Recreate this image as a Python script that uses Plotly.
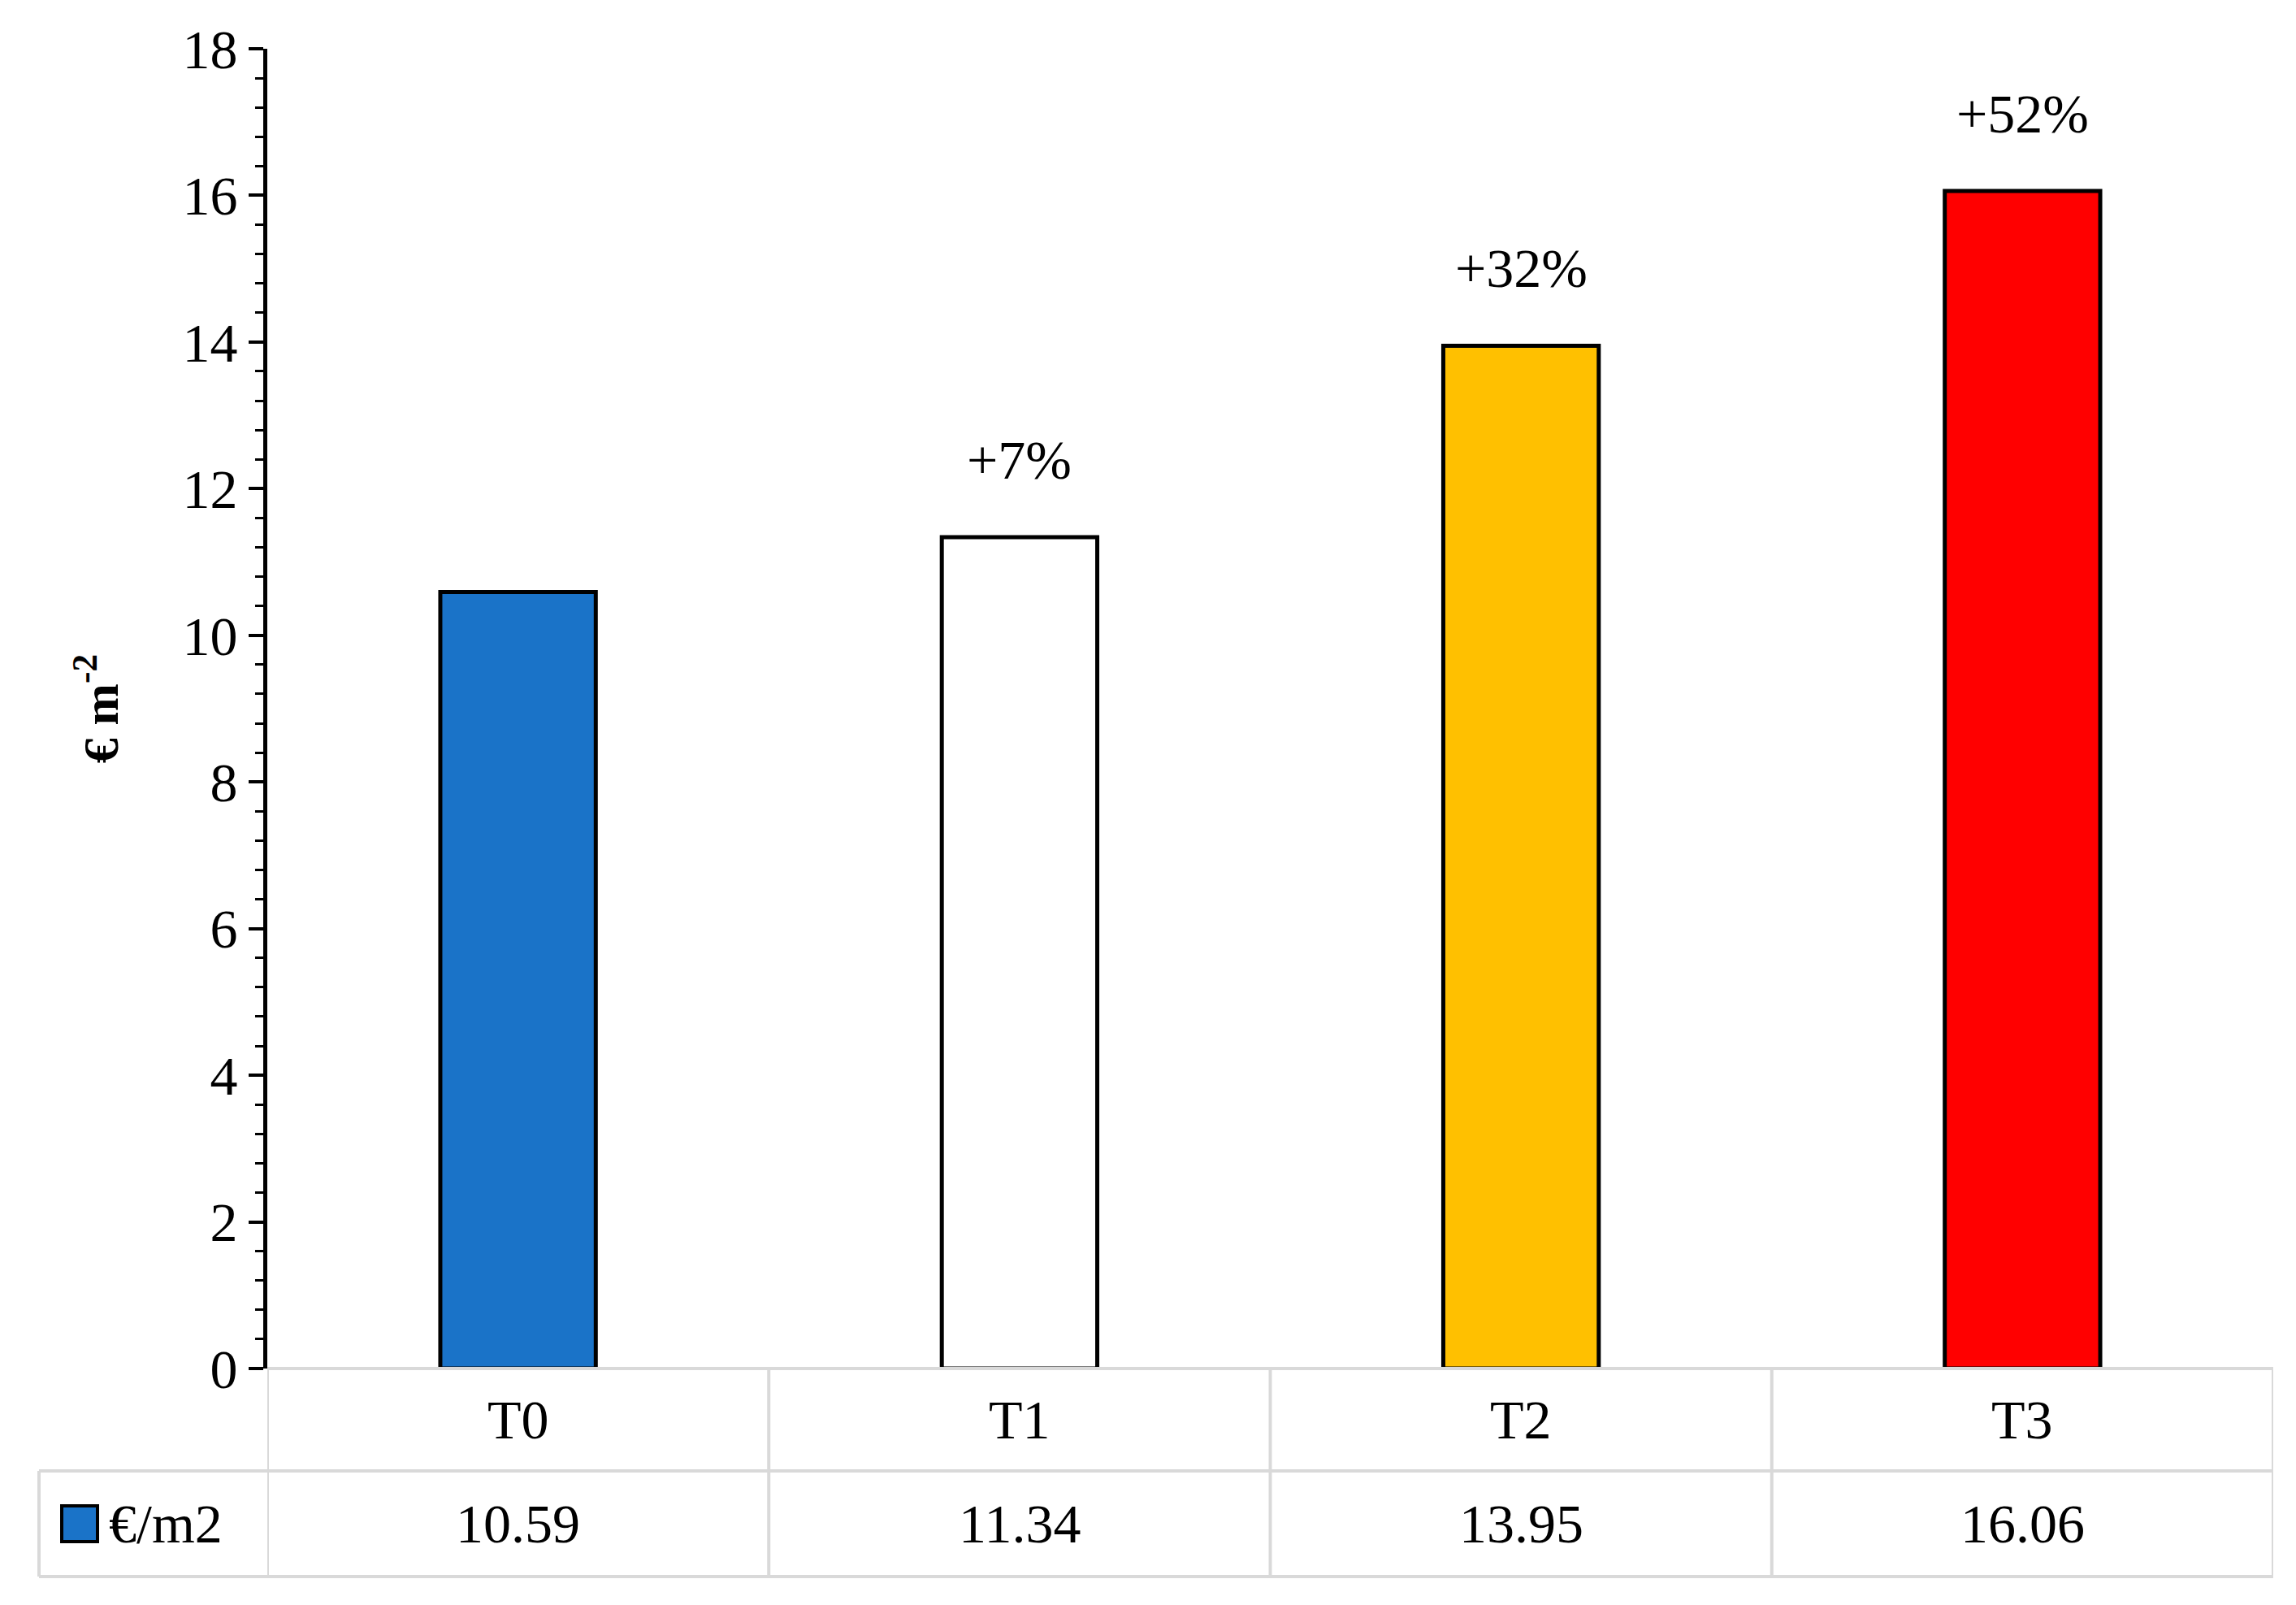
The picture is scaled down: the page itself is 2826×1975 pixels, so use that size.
import plotly.graph_objects as go

categories = ["T0", "T1", "T2", "T3"]
values = [10.59, 11.34, 13.95, 16.06]
labels = ["", "+7%", "+32%", "+52%"]
colors = ["#1a73c8", "#ffffff", "#ffc000", "#ff0000"]
series_name = "€/m2"

W, H = 2826, 1975
L, R, T, B = 321, 36, 52, 299
ph = H - T - B
pw = W - L - R
def py(px): return (H - B - px) / ph
def px_(p): return (p - L) / pw

FONT = "Liberation Serif"
FS = 68
fig = go.Figure()
xs = list(range(len(categories)))
fig.add_trace(go.Bar(x=xs, y=values, width=0.31, marker=dict(color=colors, line=dict(color="black", width=5)),
                     showlegend=False))

shapes = []
grey = "#d9d9d9"
shapes.append(dict(type="line", xref="x", yref="paper", x0=-0.5, x1=3.5, y0=py(1676), y1=py(1676), line=dict(color=grey, width=4)))
for yp in [1802, 1932]:
    shapes.append(dict(type="line", xref="paper", yref="paper", x0=px_(40), x1=1, y0=py(yp), y1=py(yp), line=dict(color=grey, width=4)))
for i in range(len(categories) + 1):
    shapes.append(dict(type="line", xref="x", yref="paper", x0=i - 0.5, x1=i - 0.5, y0=py(1676), y1=py(1932), line=dict(color=grey, width=4)))
shapes.append(dict(type="line", xref="paper", yref="paper", x0=px_(40), x1=px_(40), y0=py(1802), y1=py(1932), line=dict(color=grey, width=4)))
shapes.append(dict(type="rect", xref="paper", yref="paper", x0=px_(68), x1=px_(112), y0=py(1889), y1=py(1845),
                   fillcolor=colors[0], line=dict(color="black", width=4)))

ann = []
for i, (c, v, lab) in enumerate(zip(categories, values, labels)):
    ann.append(dict(x=i, y=py(1739), xref="x", yref="paper", yanchor="middle", text=c, showarrow=False, font=dict(family=FONT, size=FS, color="black")))
    ann.append(dict(x=i, y=py(1867), xref="x", yref="paper", yanchor="middle", text=f"{v:.2f}", showarrow=False, font=dict(family=FONT, size=FS, color="black")))
    if lab:
        ann.append(dict(x=i, y=v, xref="x", yref="y", yanchor="bottom", yshift=55, text=lab, showarrow=False, font=dict(family=FONT, size=FS, color="black")))
ann.append(dict(x=px_(124), y=py(1867), xref="paper", yref="paper", xanchor="left", yanchor="middle", text=series_name, showarrow=False,
                font=dict(family=FONT, size=FS, color="black")))

fig.update_layout(
    width=W, height=H, margin=dict(l=L, r=R, t=T, b=B),
    plot_bgcolor="white", paper_bgcolor="white",
    shapes=shapes, annotations=ann,
    xaxis=dict(range=[-0.5, 3.5], showticklabels=False, showgrid=False, zeroline=False, ticks=""),
    yaxis=dict(range=[0, 18], dtick=2, showgrid=False, zeroline=False, ticks="outside", ticklen=18, tickwidth=4,
               tickcolor="black", showline=True, linecolor="black", linewidth=5,
               tickfont=dict(family=FONT, size=FS, color="black"),
               minor=dict(dtick=0.4, ticks="outside", ticklen=10, tickwidth=3, tickcolor="black"),
               title=dict(text="<b>€ m<sup>-2</sup></b>", font=dict(family=FONT, size=62, color="black"), standoff=60)),
)
fig.write_html("out.html")
